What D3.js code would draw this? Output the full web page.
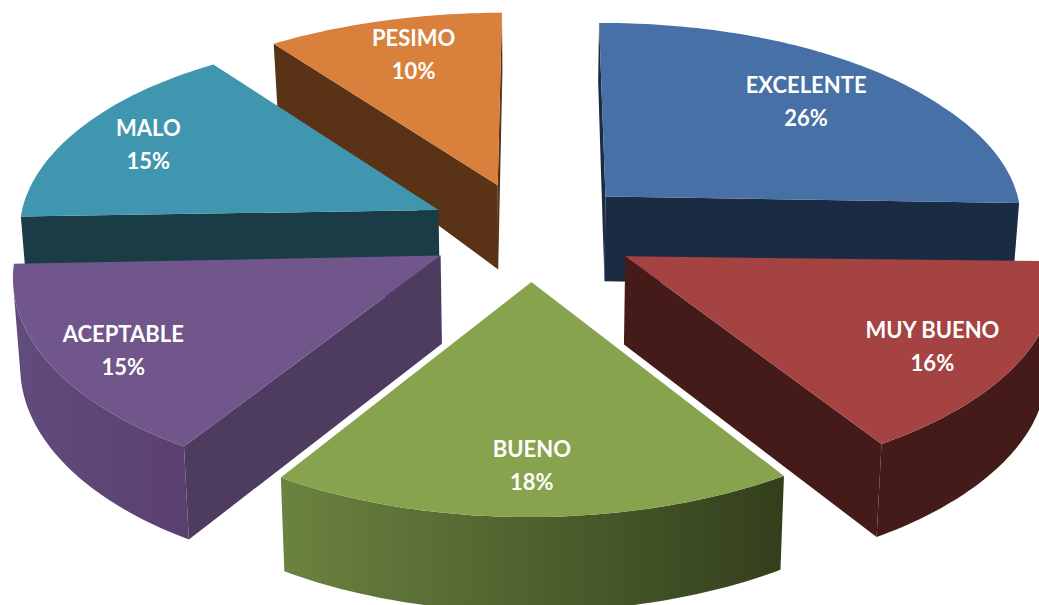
<!DOCTYPE html>
<html>
<head>
<meta charset="utf-8">
<script src="https://cdn.jsdelivr.net/npm/d3@7"></script>
<style>
html, body { margin: 0; padding: 0; background: #fff; overflow: hidden; }
svg { display: block; }
text { font-family: Lato, "Open Sans", sans-serif; font-weight: 700; fill: #fff; }
</style>
</head>
<body>
<svg id="chart" width="1039" height="605"></svg>
<script>
// Survey ratings, in percent
const categories = ["EXCELENTE", "MUY BUENO", "BUENO", "ACEPTABLE", "MALO", "PESIMO"];
const percentages = [26, 16, 18, 15, 15, 10];

// Face colours per slice
const topColors = ["#4670a6", "#a54342", "#87a34d", "#71568c", "#4096ae", "#d9813c"];
const cutColors = ["#1b2c42", "#451b19", "#333f1c", "#4e3b60", "#1a3c47", "#5a3317"];
const rimFrom = ["#1b2c42", "#451b19", "#6b8340", "#614c7d", "#1a3c47", "#5a3317"];
const rimTo = ["#1b2c42", "#451b19", "#333f1c", "#5a4070", "#1a3c47", "#5a3317"];

// Painter's order: back slices first, front slices last
const drawOrder = [0, 5, 4, 3, 1, 2];

// Camera model for the tilted disc
const view = { cx: 533, cy: 231, a: 420, b: 199, px: 0.096, py: 0.104, bowNorth: 12, bowSouth: 7.5, tilt: 6, tiltSouth: 8, taper: 0.986 };
const explode = 0.25;
const rotation = -2.5 * Math.PI / 180;
const thickness = d3.scaleLinear().domain([-1.3, -0.1, 0.25, 1.2]).range([95, 88, 84, 58]);

// Label placement relative to each slice's bisector
const labelReach = [0.746, 0.80, 0.795, 0.83, 0.805, 0.78];
const labelTurn = [-1.7, 2, 0, -1.5, 0, 1.6];

const pie = d3.pie().sort(null).startAngle(rotation).endAngle(rotation + 2 * Math.PI);
const arcs = pie(percentages);

// Ground plane (X east, Z north) to screen
function project([X, Z]) {
  const bow = Z > 0 ? view.bowNorth : view.bowSouth;
  const lean = view.tilt * X * Math.max(0, Math.min(1, Z + 0.3)) + view.tiltSouth * X * Math.min(0, Z + 0.3);
  return [
    view.cx + view.a * X / (1 + view.px * Z) + bow * Z * Z,
    view.cy - view.b * Z / (1 + view.py * Z) + lean
  ];
}
// Same point at the bottom of the disc's thickness
function projectLow(pt) {
  const [x, y] = project(pt);
  return [view.cx + (x - view.cx) * view.taper, y + thickness(pt[1])];
}
const polar = (origin, angle, r) => [origin[0] + r * Math.sin(angle), origin[1] + r * Math.cos(angle)];

const svg = d3.select("#chart");
const defs = svg.append("defs");
const line = d3.line();

function wall(g, p, q, color) {
  const poly = [project(p), project(q), projectLow(q), projectLow(p)];
  if (d3.polygonArea(poly) <= 0) return;
  g.append("path").attr("d", line(poly) + "Z").attr("fill", color);
}

drawOrder.forEach(i => {
  const d = arcs[i];
  const mid = (d.startAngle + d.endAngle) / 2;
  const apex = polar([0, 0], mid, explode);
  const steps = Math.ceil((d.endAngle - d.startAngle) / (Math.PI / 180));
  const angles = d3.range(steps + 1).map(k => d.startAngle + (d.endAngle - d.startAngle) * k / steps);
  const rim = angles.map(t => polar(apex, t, 1));
  const g = svg.append("g").attr("class", "slice");

  // Cut faces
  wall(g, apex, rim[0], cutColors[i]);
  wall(g, rim[rim.length - 1], apex, cutColors[i]);

  // Curved rim: keep only the run of segments that faces the viewer
  const facing = rim.filter((pt, k) => {
    const nb = rim[k + 1] ? [pt, rim[k + 1]] : [rim[k - 1], pt];
    return d3.polygonArea([project(nb[0]), project(nb[1]), projectLow(nb[1]), projectLow(nb[0])]) > 0;
  });
  if (facing.length > 1) {
    const upper = facing.map(project);
    const lower = facing.map(projectLow).reverse();
    const [x0, x1] = d3.extent(upper, p => p[0]);
    const id = "rim-" + i;
    const grad = defs.append("linearGradient").attr("id", id)
      .attr("gradientUnits", "userSpaceOnUse")
      .attr("x1", x0).attr("x2", x1).attr("y1", 0).attr("y2", 0);
    grad.append("stop").attr("offset", 0).attr("stop-color", rimFrom[i]);
    grad.append("stop").attr("offset", 1).attr("stop-color", rimTo[i]);
    g.append("path").attr("d", line([...upper, ...lower]) + "Z").attr("fill", `url(#${id})`);
  }

  // Top face
  const top = [apex, ...rim].map(project);
  g.append("path").attr("d", line(top) + "Z").attr("fill", topColors[i]);
});

// Labels sit on top of everything
drawOrder.forEach(i => {
  const d = arcs[i];
  const mid = (d.startAngle + d.endAngle) / 2;
  const apex = polar([0, 0], mid, explode);
  const dir = mid + labelTurn[i] * Math.PI / 180;
  const [x, y] = project(polar(apex, dir, labelReach[i]));
  const t = svg.append("text").attr("text-anchor", "middle").attr("font-size", 22);
  t.append("tspan").attr("x", x).attr("y", y - 7).text(categories[i]);
  t.append("tspan").attr("x", x).attr("y", y + 26).text(percentages[i] + "%");
});
</script>
</body>
</html>
